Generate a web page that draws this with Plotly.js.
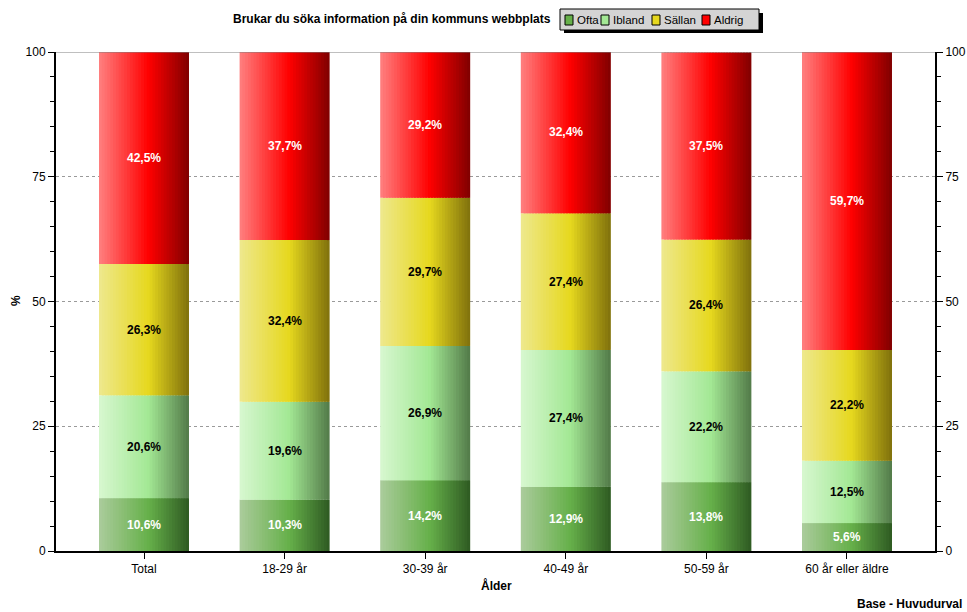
<!DOCTYPE html>
<html>
<head>
<meta charset="utf-8">
<script src="https://cdn.plot.ly/plotly-3.0.1.min.js"></script>
<style>html,body{margin:0;padding:0;background:#fff;}#chart{width:967px;height:612px;}</style>
</head>
<body>
<div id="chart"></div>
<script>
const categories = ["Total", "18-29 år", "30-39 år", "40-49 år", "50-59 år", "60 år eller äldre"];
const ofta   = [10.6, 10.3, 14.2, 12.9, 13.8, 5.6];
const ibland = [20.6, 19.6, 26.9, 27.4, 22.2, 12.5];
const sallan = [26.3, 32.4, 29.7, 27.4, 26.4, 22.2];
const aldrig = [42.5, 37.7, 29.2, 32.4, 37.5, 59.7];
const seriesNames = ["Ofta", "Ibland", "Sällan", "Aldrig"];
const yTicks = [0, 25, 50, 75, 100];
const chartTitle = "Brukar du söka information på din kommuns webbplats";
const xTitle = "Ålder";
const yTitle = "%";
const footNote = "Base - Huvudurval";

const seriesValues = [ofta, ibland, sallan, aldrig];
const palettes = [
  {light:[171,204,156], base:[102,176,74],  dark:[46,90,34]},
  {light:[216,247,208], base:[163,232,148], dark:[82,122,72]},
  {light:[238,232,142], base:[230,216,30],  dark:[127,112,12]},
  {light:[255,128,128], base:[255,0,0],     dark:[128,0,0]}
];
const labelColors = ["#ffffff", "#000000", "#000000", "#ffffff"];

function mix(a, b, t) { return a.map((v, i) => Math.round(v + (b[i] - v) * t)); }
function rgb(c) { return "rgb(" + c.join(",") + ")"; }
function gradColor(p, t) {
  const peak = 0.55;
  if (t < peak) return rgb(mix(p.light, p.base, t / peak));
  return rgb(mix(p.base, p.dark, (t - peak) / (1 - peak)));
}

const FONT = "Liberation Sans, Arial, sans-serif";
const BAR_W = 0.64;
const STRIPS = 32;
const sw = BAR_W / STRIPS;
const traces = [];
const annotations = [];
const shapes = [];
const cum = categories.map(() => 0);

seriesValues.forEach((vals, s) => {
  const bases = cum.slice();
  for (let k = 0; k < STRIPS; k++) {
    const t = (k + 0.5) / STRIPS;
    traces.push({
      type: "bar", x: categories, y: vals, base: bases, name: seriesNames[s],
      offset: -BAR_W / 2 + k * sw, width: (k === STRIPS - 1) ? sw : sw * 1.8,
      marker: {color: gradColor(palettes[s], t), line: {width: 0}},
      showlegend: false, hoverinfo: "skip"
    });
  }
  vals.forEach((v, i) => {
    annotations.push({
      x: categories[i], y: bases[i] + v / 2, xref: "x", yref: "y",
      text: "<b>" + v.toFixed(1).replace(".", ",") + "%</b>",
      showarrow: false, font: {family: FONT, size: 12, color: labelColors[s]}
    });
    cum[i] += v;
  });
});

// right axis carrier (invisible)
traces.push({type: "scatter", x: [categories[0]], y: [null], yaxis: "y2", showlegend: false, hoverinfo: "skip", mode: "markers"});

// layout pixel helpers (plot area: x 56..935, y 52..551)
const PL = 56, PW = 879, PB = 551, PH = 499;
const px = v => (v - PL) / PW;
const py = v => (PB - v) / PH;

// legend box with shadow
shapes.push({type: "rect", xref: "paper", yref: "paper", x0: px(564), x1: px(763), y0: py(33), y1: py(13), fillcolor: "#000", line: {width: 0}, layer: "above"});
shapes.push({type: "rect", xref: "paper", yref: "paper", x0: px(560), x1: px(759), y0: py(30), y1: py(9), fillcolor: "#d4d4d4", line: {color: "#000", width: 1}, layer: "above"});
const legendSquareX = [565, 601, 652, 702];
seriesNames.forEach((n, s) => {
  const x0 = legendSquareX[s];
  shapes.push({type: "rect", xref: "paper", yref: "paper", x0: px(x0), x1: px(x0 + 8), y0: py(25), y1: py(15),
    fillcolor: rgb(palettes[s].base), line: {color: "#000", width: 1}, layer: "above"});
  annotations.push({xref: "paper", yref: "paper", x: px(x0 + 10), y: py(20), xanchor: "left", yanchor: "middle",
    text: n, showarrow: false, font: {family: FONT, size: 11.5, color: "#000"}});
});

annotations.push({
  xref: "paper", yref: "paper", x: px(553), y: py(19), xanchor: "right", yanchor: "middle",
  text: "<b>" + chartTitle + "</b>", showarrow: false,
  font: {family: FONT, size: 12, color: "#000"}
});
annotations.push({
  xref: "paper", yref: "paper", x: px(964), y: py(604), xanchor: "right", yanchor: "middle",
  text: "<b>" + footNote + "</b>", showarrow: false,
  font: {family: FONT, size: 12, color: "#000"}
});
annotations.push({
  xref: "paper", yref: "paper", x: px(496), y: py(585), xanchor: "center", yanchor: "middle",
  text: "<b>" + xTitle + "</b>", showarrow: false,
  font: {family: FONT, size: 12, color: "#000"}
});
annotations.push({
  xref: "paper", yref: "paper", x: px(16), y: py(301), xanchor: "center", yanchor: "middle",
  text: "<b>" + yTitle + "</b>", showarrow: false, textangle: -90,
  font: {family: FONT, size: 12, color: "#000"}
});

shapes.push({type: "line", xref: "paper", yref: "y", x0: 0, x1: 1, y0: 100, y1: 100, line: {color: "#808080", width: 1}, layer: "above"});

const axisFont = {family: FONT, size: 12, color: "#000"};
const layout = {
  width: 967, height: 612,
  margin: {l: 56, r: 32, t: 52, b: 61, pad: 0},
  paper_bgcolor: "#fff", plot_bgcolor: "#fff",
  font: axisFont,
  barmode: "overlay",
  showlegend: false,
  xaxis: {
    type: "category", range: [-0.626, 5.626],
    showline: true, linecolor: "#000", linewidth: 2,
    ticks: "outside", ticklen: 6, tickcolor: "#000", tickwidth: 1,
    showgrid: false, zeroline: false, tickfont: axisFont,
    automargin: false
  },
  yaxis: {
    range: [0, 100], tickvals: yTicks, ticktext: yTicks.map(String),
    showline: true, linecolor: "#000", linewidth: 2,
    ticks: "outside", ticklen: 6, tickcolor: "#000", tickwidth: 1,
    minor: {dtick: 5, ticks: "outside", ticklen: 4, tickcolor: "#000", showgrid: false},
    showgrid: true, gridcolor: "#9a9a9a", griddash: "dot", gridwidth: 1,
    zeroline: false, tickfont: axisFont,
    automargin: false
  },
  yaxis2: {
    overlaying: "y", side: "right", anchor: "x",
    range: [0, 100], tickvals: yTicks, ticktext: yTicks.map(String),
    showline: true, linecolor: "#000", linewidth: 2,
    ticks: "outside", ticklen: 6, tickcolor: "#000", tickwidth: 1,
    minor: {dtick: 5, ticks: "outside", ticklen: 4, tickcolor: "#000", showgrid: false},
    showgrid: false, zeroline: false, tickfont: axisFont, automargin: false
  },
  shapes: shapes,
  annotations: annotations
};

Plotly.newPlot("chart", traces, layout, {displayModeBar: false, staticPlot: true});
</script>
</body>
</html>
